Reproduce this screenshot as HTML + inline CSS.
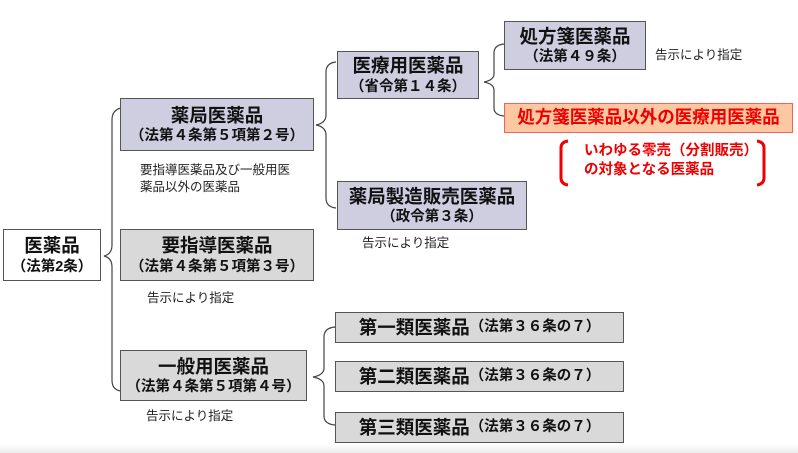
<!DOCTYPE html>
<html><head><meta charset="utf-8"><style>
body{margin:0;width:798px;height:453px;background:#fff;position:relative;overflow:hidden;font-family:"Liberation Sans","Noto Sans CJK JP",sans-serif;}
.b{position:absolute;box-sizing:border-box;border:1.5px solid #555;text-align:center;font-weight:bold;color:#111;display:flex;flex-direction:column;justify-content:center;align-items:center;line-height:1.25;}
.lav{background:#cfcde0;}
.gr{background:#d9d9d9;}
.t{font-size:18.5px;}
.s{font-size:14.5px;}
.n{position:absolute;font-size:12.5px;color:#222;line-height:1.35;}
svg{position:absolute;left:0;top:0;}
</style></head><body>
<div style="position:absolute;left:0;top:444px;width:798px;height:9px;background:linear-gradient(#fff,#ececec)"></div>
<svg width="798" height="453" fill="none" stroke="#444" stroke-width="1.2">
<path d="M121 108 Q112 110 112 120 L112 245 Q112 254 104 256 Q112 258 112 267 L112 380 Q112 390 121 391"/>
<path d="M336 62 Q326 63 326 72 L326 115 Q326 123 316 125 Q326 127 326 135 L326 198 Q326 207 336 208"/>
<path d="M504 44 Q494 45 494 53 L494 74 Q494 80 484 82 Q494 84 494 90 L494 108 Q494 115 504 116"/>
<path d="M335 327 Q324 328 324 337 L324 368 Q324 375 313 377 Q324 379 324 386 L324 416 Q324 424 335 425"/>
<g stroke="#e00" stroke-width="3"><path d="M568 141 Q561 142 561 148 L561 178 Q561 184 568 185"/><path d="M757 141 Q764 142 764 148 L764 178 Q764 184 757 185"/></g>
</svg>
<div class="b" style="left:3px;top:229px;width:98px;height:52px;background:#fff"><div class="t">医薬品</div><div class="s">（法第2条）</div></div>
<div class="b lav" style="left:120px;top:98px;width:194px;height:53px"><div class="t">薬局医薬品</div><div class="s">（法第４条第５項第２号）</div></div>
<div class="n" style="left:140px;top:162px">要指導医薬品及び一般用医<br>薬品以外の医薬品</div>
<div class="b gr" style="left:120px;top:229px;width:194px;height:52px"><div class="t">要指導医薬品</div><div class="s">（法第４条第５項第３号）</div></div>
<div class="n" style="left:147px;top:290px">告示により指定</div>
<div class="b gr" style="left:120px;top:350px;width:187px;height:51px"><div class="t">一般用医薬品</div><div class="s">（法第４条第５項第４号）</div></div>
<div class="n" style="left:146px;top:408px">告示により指定</div>
<div class="b lav" style="left:337px;top:51px;width:142px;height:48px"><div class="t">医療用医薬品</div><div class="s">（省令第１４条）</div></div>
<div class="b lav" style="left:504px;top:21px;width:142px;height:49px"><div class="t">処方箋医薬品</div><div class="s">（法第４９条）</div></div>
<div class="n" style="left:655px;top:47px">告示により指定</div>
<div class="b" style="left:504px;top:103px;width:289px;height:30px;background:#fcc8a2;border-color:#f06060;color:#e00;font-size:17.5px">処方箋医薬品以外の医療用医薬品</div>
<div class="n" style="left:584px;top:142px;color:#e00;font-weight:bold;font-size:14.5px;line-height:1.3">いわゆる零売（分割販売）<br>の対象となる医薬品</div>
<div class="b lav" style="left:337px;top:181px;width:190px;height:49px"><div class="t">薬局製造販売医薬品</div><div class="s">（政令第３条）</div></div>
<div class="n" style="left:362px;top:235px">告示により指定</div>
<div class="b gr" style="left:335px;top:312px;width:289px;height:31px;flex-direction:row"><span class="t">第一類医薬品</span><span class="s">（法第３６条の７）</span></div>
<div class="b gr" style="left:335px;top:361px;width:289px;height:31px;flex-direction:row"><span class="t">第二類医薬品</span><span class="s">（法第３６条の７）</span></div>
<div class="b gr" style="left:335px;top:412px;width:289px;height:31px;flex-direction:row"><span class="t">第三類医薬品</span><span class="s">（法第３６条の７）</span></div>
</body></html>
